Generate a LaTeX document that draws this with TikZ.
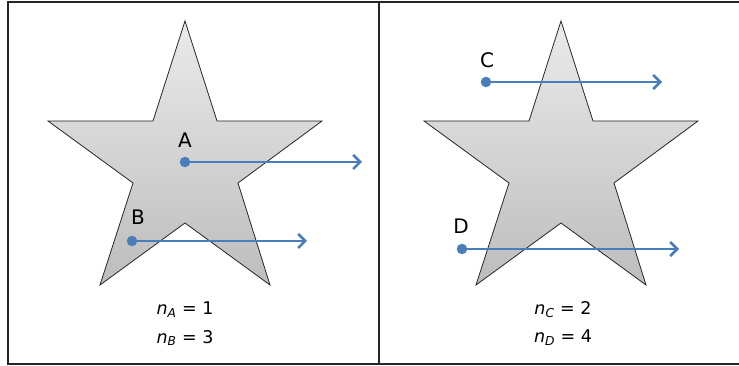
\documentclass[tikz,border=0pt]{standalone}
\usepackage{fontspec}
\setmainfont{DejaVu Sans}
\usetikzlibrary{arrows.meta}
\definecolor{rayblue}{HTML}{4A7EBB}
\tikzset{
  starshape/.style={draw=black!85, line width=0.8pt, top color=black!8, bottom color=black!26},
  frameline/.style={draw=black!85, line width=1.3pt},
  ray/.style={draw=rayblue, line width=2.8pt, -{Straight Barb[length=7pt,width=14pt,line width=2.6pt]}},
  dot/.style={circle, fill=rayblue, inner sep=0pt, minimum size=10.5pt},
  lbl/.style={font=\fontsize{20}{20}\selectfont, inner sep=0pt},
  eq/.style={font=\fontsize{17.5}{17.5}\selectfont, inner sep=0pt}
}
\begin{document}
\begin{tikzpicture}[x=1pt,y=1pt]
\useasboundingbox (0,0) rectangle (739,366);
% frame
\draw[frameline] (739,364) -- (8,364) -- (8,2) -- (739,2);
\draw[frameline] (379,364) -- (379,2);
% stars
\foreach \dx in {0,376}{
  \path[starshape] (185+\dx,345) -- (217+\dx,245) -- (322+\dx,245) -- (238+\dx,183) -- (270+\dx,81) -- (185+\dx,143) -- (100+\dx,81) -- (133+\dx,183) -- (48+\dx,245) -- (153+\dx,245) -- cycle;
}
% left panel
\node[dot] (A) at (185,204) {};
\coordinate (Aend) at (362,204);
\node[lbl] (Alab) at (185,226) {A};
\draw[ray] (A.center) -- (Aend);
\node[dot] (B) at (132,125) {};
\coordinate (Bend) at (307,125);
\node[lbl] (Blab) at (138,149) {B};
\draw[ray] (B.center) -- (Bend);
\node[eq] (nA) at (185,56) {\textit{n}\textsubscript{\textit{A}} = 1};
\node[eq] (nB) at (185,28) {\textit{n}\textsubscript{\textit{B}} = 3};
% right panel
\node[dot] (C) at (486,284) {};
\coordinate (Cend) at (662,284);
\node[lbl] (Clab) at (487,306) {C};
\draw[ray] (C.center) -- (Cend);
\node[dot] (D) at (462,117) {};
\coordinate (Dend) at (679,117);
\node[lbl] (Dlab) at (461,140) {D};
\draw[ray] (D.center) -- (Dend);
\node[eq] (nC) at (563,56) {\textit{n}\textsubscript{\textit{C}} = 2};
\node[eq] (nD) at (563,28) {\textit{n}\textsubscript{\textit{D}} = 4};
\end{tikzpicture}
\end{document}
